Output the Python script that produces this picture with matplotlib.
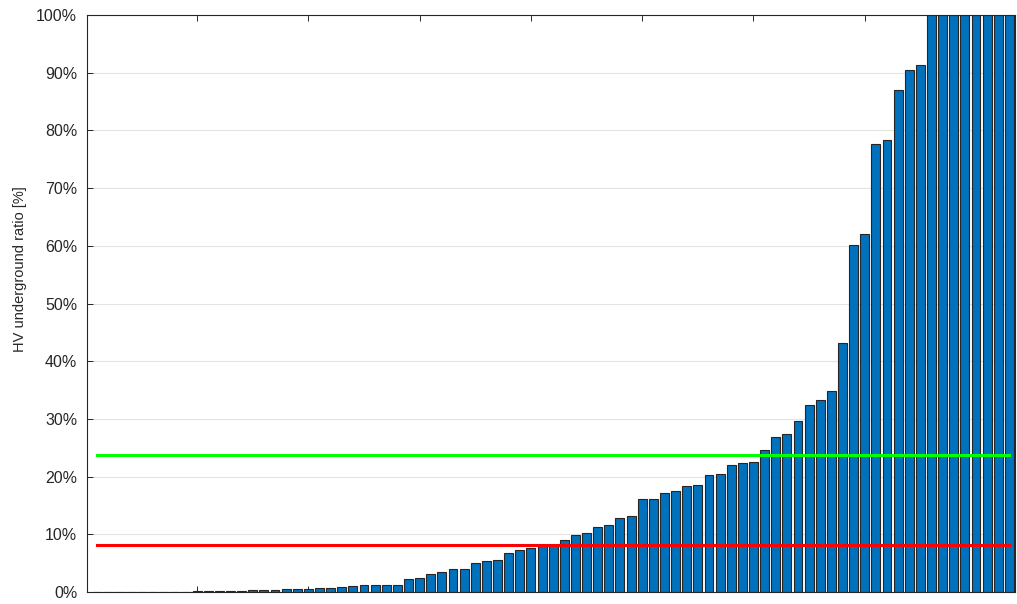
import numpy as np
import matplotlib
matplotlib.use('Agg')
import matplotlib.pyplot as plt
from matplotlib.ticker import FuncFormatter

# Anteil Erdkabel im HV-Netz, aufsteigend sortiert (in %)
ratio = [0, 0, 0, 0, 0, 0, 0, 0,
         0.05, 0.1, 0.1, 0.1, 0.12, 0.15,
         0.3, 0.35, 0.35, 0.45, 0.5, 0.6,
         0.64, 0.64, 0.87, 0.98, 1.15, 1.15, 1.15, 1.15,
         2.2, 2.5, 3.1, 3.5, 4.0, 4.0, 5.1, 5.3, 5.5,
         6.8, 7.2, 7.6, 8.0, 8.1, 9.0, 9.8, 10.3, 11.2, 11.6,
         12.9, 13.2, 16.1, 16.1, 17.2, 17.5, 18.3, 18.6,
         20.2, 20.5, 22.0, 22.3, 22.5, 24.6, 26.9, 27.4,
         29.7, 32.4, 33.3, 34.8, 43.2, 60.1, 62.0, 77.7, 78.4,
         87.0, 90.5, 91.3,
         100, 100, 100, 100, 100, 100, 100, 100]
green_level = 23.7   # gruene Linie
red_level = 8.1      # rote Linie
xticks = [10, 20, 30, 40, 50, 60, 70, 80]
yticks = [0, 10, 20, 30, 40, 50, 60, 70, 80, 90, 100]

plt.rcParams['font.family'] = ['Liberation Sans', 'DejaVu Sans']

fig = plt.figure(figsize=(10.17, 6.04), dpi=100)
ax = fig.add_axes([0.0855, 0.0199, 0.9125, 0.9552])

idx = np.arange(1, len(ratio) + 1)
ax.bar(idx, ratio, width=0.8, color='#0072BD', edgecolor='#262626', linewidth=0.8, zorder=2)

# Referenzlinien
ax.plot([idx[0], idx[-1]], [green_level, green_level], color='#00ff00', linewidth=2.2, zorder=3)
ax.plot([idx[0], idx[-1]], [red_level, red_level], color='#ff0000', linewidth=2.2, zorder=3)

ax.set_xlim(0.1, 83.5)
ax.set_ylim(0, 100)
ax.set_xticks(xticks)
ax.set_xticklabels([])
ax.set_yticks(yticks)
ax.yaxis.set_major_formatter(FuncFormatter(lambda v, p: '%d%%' % v))

ax.grid(axis='y', color='#e3e3e3', linewidth=0.8, zorder=0)
ax.set_axisbelow(True)
ax.tick_params(direction='in', length=4, width=0.7, colors='#262626',
               top=True, right=True, labelsize=11.5, pad=7)
for s in ax.spines.values():
    s.set_color('#262626')
    s.set_linewidth(0.8)

ax.set_ylabel('HV underground ratio [%]', fontsize=10.5, color='#262626')
ax.yaxis.set_label_coords(-0.065, 0.56)

plt.savefig('out.png', dpi=100)
